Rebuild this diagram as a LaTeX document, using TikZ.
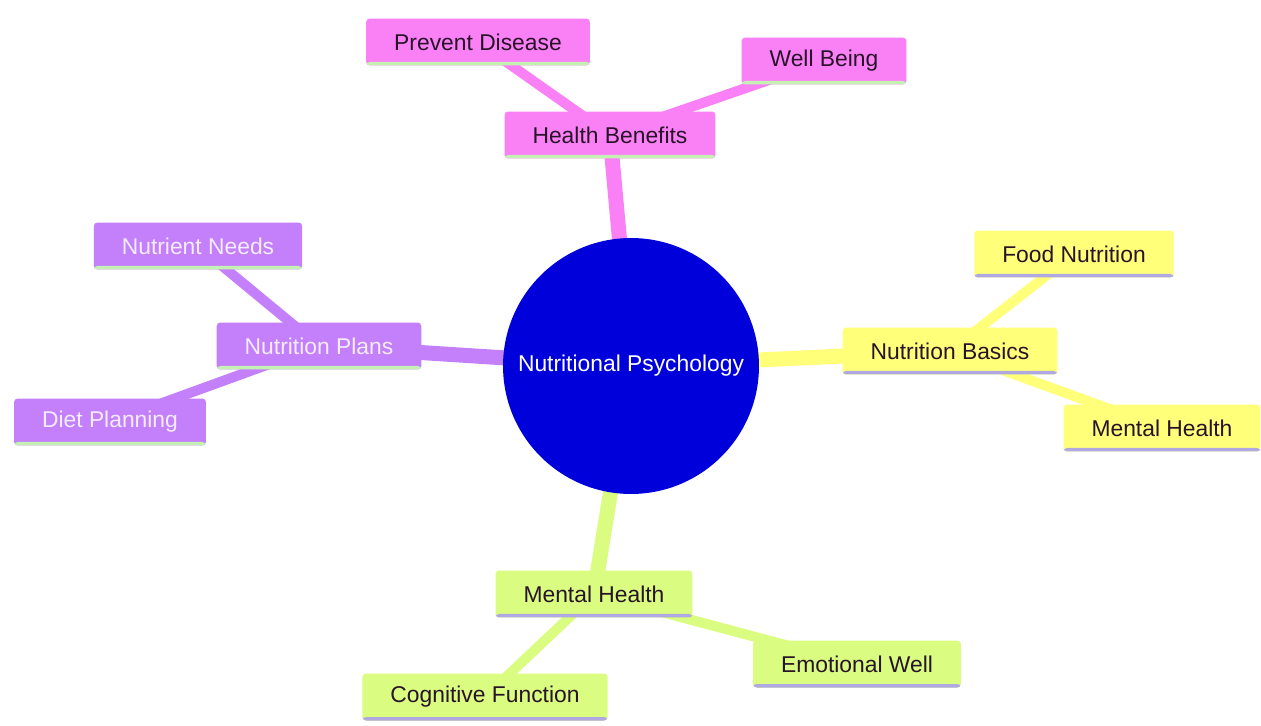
\documentclass[tikz,border=0pt]{standalone}
\usepackage{fontspec}
\setmainfont{Liberation Sans}
\usetikzlibrary{positioning,backgrounds}

\definecolor{corefill}{RGB}{0,0,218}
\definecolor{benefitpink}{RGB}{250,128,246}
\definecolor{planpurple}{RGB}{196,128,250}
\definecolor{basicyellow}{RGB}{255,255,122}
\definecolor{mindgreen}{RGB}{218,252,128}
\definecolor{edgegreen}{RGB}{196,240,180}
\definecolor{edgelilac}{RGB}{176,168,226}
\definecolor{darktext}{RGB}{40,20,40}
\definecolor{lighttext}{RGB}{244,236,255}

\tikzset{
  topic/.style={rectangle, rounded corners=2pt, inner xsep=0.56cm, minimum height=0.94cm,
    font=\fontsize{13}{15}\selectfont},
  underline/.style={path picture={
      \fill[#1] (path picture bounding box.south west) rectangle
        ([yshift=0.07cm]path picture bounding box.south east);}},
  benefit/.style={topic, fill=benefitpink, text=darktext, underline=edgegreen},
  plan/.style={topic, fill=planpurple, text=lighttext, underline=edgegreen},
  basic/.style={topic, fill=basicyellow, text=darktext, underline=edgelilac},
  mind/.style={topic, fill=mindgreen, text=darktext, underline=edgelilac},
  trunk/.style={line width=0.3cm},
  twig/.style={line width=0.2cm}
}

\begin{document}
\begin{tikzpicture}[x=0.02cm, y=-0.02cm]
        \useasboundingbox (0,0) rectangle (1261,726);

        % Centre topic
        \node[circle, fill=corefill, text=white, minimum size=5.12cm, font=\fontsize{13}{15}\selectfont] (core) at (631,366) {Nutritional Psychology};

        % Health benefits branch
        \node[benefit] (benefits) at (610,135) {Health Benefits};
        \node[benefit] (disease) at (478,42) {Prevent Disease};
        \node[benefit] (wellbeing) at (824,61) {Well Being};

        % Nutrition plans branch
        \node[plan] (plans) at (319,346) {Nutrition Plans};
        \node[plan] (needs) at (198,246) {Nutrient Needs};
        \node[plan] (diet) at (110,422) {Diet Planning};

        % Nutrition basics branch
        \node[basic] (basics) at (950,351) {Nutrition Basics};
        \node[basic] (food) at (1074,254) {Food Nutrition};
        \node[basic] (mentalb) at (1162,428) {Mental Health};

        % Mental health branch
        \node[mind] (mental) at (594,594) {Mental Health};
        \node[mind] (cognitive) at (485,697) {Cognitive Function};
        \node[mind] (emotional) at (857,664) {Emotional Well};

        % Connectors behind the boxes
        \begin{scope}[on background layer]
            \draw[trunk, benefitpink] (core.center) -- (benefits.center);
            \draw[twig, benefitpink] (benefits.center) -- (disease.center);
            \draw[twig, benefitpink] (benefits.center) -- (wellbeing.center);

            \draw[trunk, planpurple] (core.center) -- (plans.center);
            \draw[twig, planpurple] (plans.center) -- (needs.center);
            \draw[twig, planpurple] (plans.center) -- (diet.center);

            \draw[trunk, basicyellow] (core.center) -- (basics.center);
            \draw[twig, basicyellow] (basics.center) -- (food.center);
            \draw[twig, basicyellow] (basics.center) -- (mentalb.center);

            \draw[trunk, mindgreen] (core.center) -- (mental.center);
            \draw[twig, mindgreen] (mental.center) -- (cognitive.center);
            \draw[twig, mindgreen] (mental.center) -- (emotional.center);
        \end{scope}
    \end{tikzpicture}
\end{document}
